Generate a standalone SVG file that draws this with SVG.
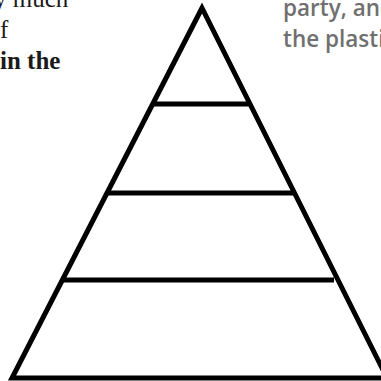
<svg xmlns="http://www.w3.org/2000/svg" width="381" height="381" viewBox="0 0 381 381">
<style>
.tier{stroke:#000;stroke-width:5;fill:none;stroke-linecap:butt}
.body{font-family:"Liberation Serif",serif;font-size:25px;fill:#1a1a1a}
.note{font-family:"Open Sans",sans-serif;font-size:22.5px;fill:#707070;font-weight:600}
</style>
<rect width="381" height="381" fill="#fff"/>
<g id="text-left">
<text class="body" x="-6" y="7">y much</text>
<text class="body" x="0" y="38">f</text>
<text class="body" x="0" y="69" font-weight="bold">in the</text>
</g>
<g id="text-right">
<text class="note" x="283" y="16">party, and</text>
<text class="note" x="283" y="47">the plastic</text>
</g>
<g id="pyramid">
<polygon class="tier" points="202,8 12,378 387,378" stroke-linejoin="miter"/>
</g>
<g id="connectors">
<line class="tier" x1="153" y1="104" x2="251" y2="104"/>
<line class="tier" x1="106" y1="193" x2="296" y2="193"/>
<line class="tier" x1="62" y1="280" x2="334" y2="280"/>
</g>
</svg>
